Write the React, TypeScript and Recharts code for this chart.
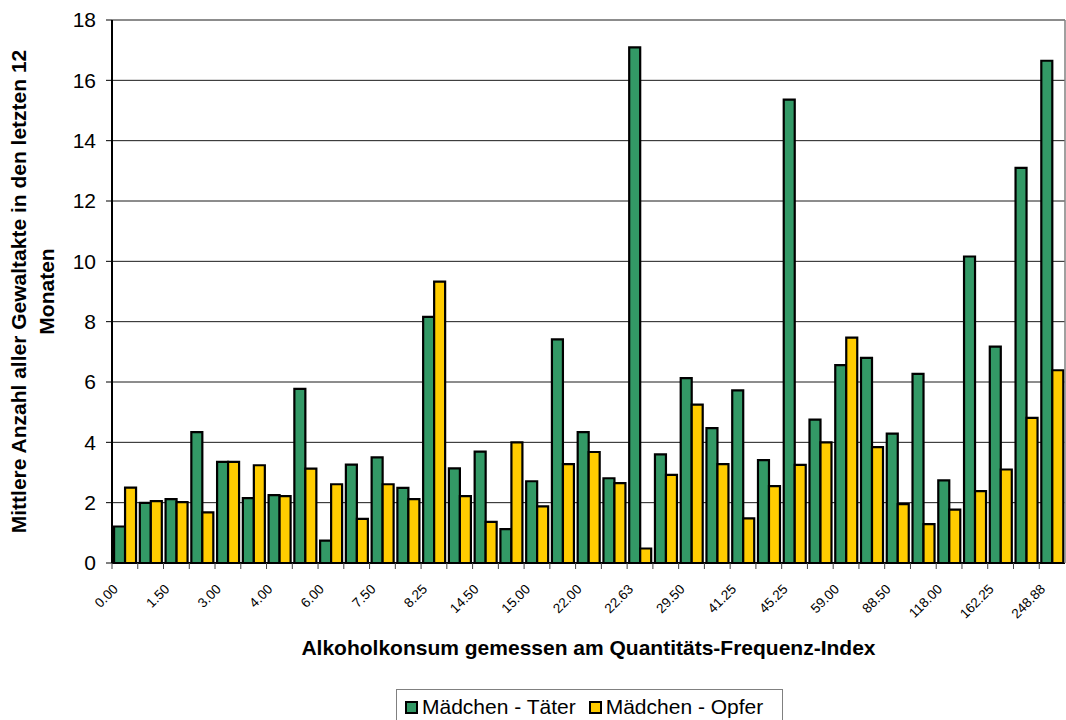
import { BarChart, Bar, XAxis, YAxis, CartesianGrid, Legend } from "recharts";

// QFI values printed under every second group
const qfiLabels = [
  "0.00", "1.50", "3.00", "4.00", "6.00", "7.50", "8.25", "14.50", "15.00", "22.00",
  "22.63", "29.50", "41.25", "45.25", "59.00", "88.50", "118.00", "162.25", "248.88",
];

// mean number of violent acts, girls as offenders
const taeter = [
  1.21, 1.99, 2.12, 4.34, 3.35, 2.15, 2.25, 5.77, 0.74, 3.26, 3.5, 2.49, 8.16,
  3.14, 3.69, 1.12, 2.71, 7.41, 4.34, 2.81, 17.09, 3.6, 6.13, 4.47, 5.72, 3.41,
  15.36, 4.75, 6.56, 6.8, 4.29, 6.27, 2.74, 10.16, 7.17, 13.1, 16.65,
];

// mean number of violent acts, girls as victims
const opfer = [
  2.5, 2.05, 2.02, 1.68, 3.35, 3.24, 2.22, 3.13, 2.61, 1.46, 2.61, 2.12, 9.33,
  2.22, 1.36, 4.0, 1.88, 3.28, 3.68, 2.65, 0.48, 2.92, 5.25, 3.28, 1.48, 2.55,
  3.25, 4.0, 7.47, 3.84, 1.95, 1.29, 1.77, 2.38, 3.1, 4.81, 6.39,
];

const yTicks = [0, 2, 4, 6, 8, 10, 12, 14, 16, 18];

const series = [
  { key: "taeter", name: "Mädchen - Täter", color: "#339966" },
  { key: "opfer", name: "Mädchen - Opfer", color: "#FFCC00" },
];

const data = taeter.map((t, i) => ({
  qfi: i % 2 === 0 ? qfiLabels[i / 2] : "",
  taeter: t,
  opfer: opfer[i],
}));

const FONT = "'Liberation Sans', Arial, sans-serif";
const WIDTH = 1066;
const HEIGHT = 720;
const Y_AXIS_W = 112;
const RIGHT_W = 1;

// small tick marks between the groups
const renderBoundaryTick = (props: any) => {
  const { x, y, index, width } = props;
  const band = width / data.length;
  return (
    <line
      key={`b-${index}`}
      x1={x - band / 2}
      y1={y}
      x2={x - band / 2}
      y2={y + 6}
      stroke="#444"
      strokeWidth={1}
    />
  );
};

// slanted category labels plus the axis title
function renderXLabels({ viewBox }: any) {
  const band = viewBox.width / data.length;
  return (
    <g>
      {data.map((d, i) =>
        d.qfi ? (
          <g
            key={`l-${i}`}
            transform={`translate(${viewBox.x + (i + 0.5) * band - 6}, ${viewBox.y + 27}) rotate(-45)`}
          >
            <text x={0} y={0} textAnchor="end" fontSize={13.5} fontFamily={FONT} fill="#000">
              {d.qfi}
            </text>
          </g>
        ) : null
      )}
      <text
        x={viewBox.x + viewBox.width / 2}
        y={viewBox.y + 92}
        textAnchor="middle"
        fontSize={21}
        fontWeight="bold"
        fontFamily={FONT}
        fill="#000"
      >
        Alkoholkonsum gemessen am Quantitäts-Frequenz-Index
      </text>
    </g>
  );
}

function renderYTitle({ viewBox }: any) {
  const cy = viewBox.y + viewBox.height / 2;
  const lines = [
    { text: "Mittlere Anzahl aller Gewaltakte in den letzten 12", x: 26 },
    { text: "Monaten", x: 54 },
  ];
  return (
    <g>
      {lines.map((l) => (
        <g key={l.text} transform={`translate(${l.x}, ${cy}) rotate(-90)`}>
          <text
            x={0}
            y={0}
            textAnchor="middle"
            fontSize={21}
            fontWeight="bold"
            fontFamily={FONT}
            fill="#000"
          >
            {l.text}
          </text>
        </g>
      ))}
    </g>
  );
}

function LegendBox() {
  return (
    <div
      style={{
        display: "flex",
        alignItems: "center",
        height: "100%",
        paddingLeft: 8,
        paddingTop: 2,
        boxSizing: "border-box",
        fontFamily: FONT,
        fontSize: 21,
        color: "#000",
      }}
    >
      {series.map((s) => (
        <div key={s.key} style={{ display: "flex", alignItems: "center", marginRight: 13 }}>
          <span
            style={{
              display: "inline-block",
              width: 13,
              height: 13,
              background: s.color,
              border: "2px solid #000",
              boxSizing: "border-box",
              marginRight: 4,
            }}
          />
          <span style={{ lineHeight: "24px" }}>{s.name}</span>
        </div>
      ))}
    </div>
  );
}

export default function App() {
  return (
    <div style={{ position: "absolute", left: 0, top: 0, width: WIDTH, height: HEIGHT, background: "#fff", fontFamily: FONT }}>
      <BarChart
        width={WIDTH}
        height={HEIGHT}
        data={data}
        margin={{ top: 20, right: 0, bottom: 0, left: 0 }}
        barCategoryGap="8%"
        barGap={0}
      >
        <CartesianGrid vertical={false} stroke="#1a1a1a" strokeWidth={1} />
        <XAxis
          height={157}
          interval={0}
          tickLine={false}
          tickSize={0}
          tickMargin={0}
          tick={renderBoundaryTick}
          axisLine={{ stroke: "#000", strokeWidth: 2 }}
          label={renderXLabels}
        />
        <XAxis
          xAxisId="top"
          orientation="top"
          height={0}
          tick={false}
          tickLine={false}
          axisLine={{ stroke: "#808080", strokeWidth: 2 }}
        />
        <YAxis
          width={Y_AXIS_W}
          domain={[0, 18]}
          ticks={yTicks}
          interval={0}
          tickSize={6}
          tickMargin={10}
          tick={{ fill: "#000", fontSize: 21, fontFamily: FONT }}
          tickLine={{ stroke: "#000" }}
          axisLine={{ stroke: "#000", strokeWidth: 2 }}
          label={renderYTitle}
        />
        <YAxis
          yAxisId="right"
          orientation="right"
          width={RIGHT_W}
          tick={false}
          tickLine={false}
          axisLine={{ stroke: "#808080", strokeWidth: 1.5 }}
        />
        {series.map((s) => (
          <Bar
            key={s.key}
            dataKey={s.key}
            name={s.name}
            fill={s.color}
            stroke="#000"
            strokeWidth={2.2}
            isAnimationActive={false}
          />
        ))}
        <Legend
          layout="horizontal"
          verticalAlign="middle"
          content={<LegendBox />}
          wrapperStyle={{
            left: 396,
            top: 689,
            width: 387,
            height: 34,
            border: "1px solid #808080",
            boxSizing: "border-box",
            background: "#fff",
          }}
        />
      </BarChart>
    </div>
  );
}
